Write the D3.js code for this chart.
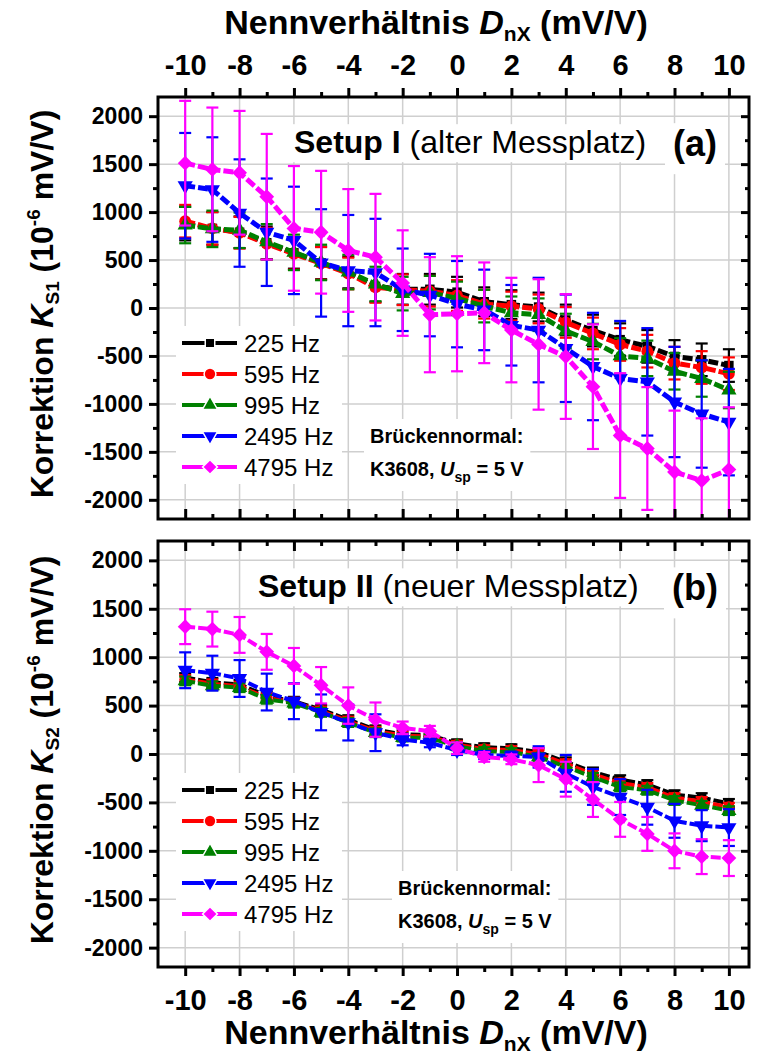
<!DOCTYPE html>
<html>
<head>
<meta charset="utf-8">
<script src="https://cdn.jsdelivr.net/npm/d3@7"></script>
<style>
  body { margin: 0; background: #fff; }
  svg { display: block; font-family: "Liberation Sans", Arial, sans-serif; }
  .grid line { stroke: #cfcfcf; stroke-width: 1.5; }
  .axis path { display: none; }
  .axis line { stroke: #000; stroke-width: 3; }
  .axis text { font-weight: bold; fill: #000; }
</style>
</head>
<body>
<svg id="chart" width="759" height="1060"></svg>
<script>
// nominal ratio D_nX (mV/V)
const dnx = [-10, -9, -8, -7, -6, -5, -4, -3, -2, -1, 0, 1, 2, 3, 4, 5, 6, 7, 8, 9, 10];
const freqLabels = ['225 Hz', '595 Hz', '995 Hz', '2495 Hz', '4795 Hz'];
const xTicks = [-10, -8, -6, -4, -2, 0, 2, 4, 6, 8, 10];
const yTicks = [-2000, -1500, -1000, -500, 0, 500, 1000, 1500, 2000];

// Setup I (a)
const k225a  = [880, 830, 790, 680, 575, 470, 370, 225, 195, 195, 165, 65, 35, 10, -125, -235, -330, -400, -505, -540, -600];
const k595a  = [905, 830, 785, 670, 565, 465, 360, 215, 190, 175, 130, 40, 20, -10, -150, -265, -380, -450, -575, -620, -685];
const k995a  = [865, 825, 810, 690, 580, 475, 375, 250, 150, 160, 100, 20, -50, -70, -240, -350, -500, -525, -660, -735, -855];
const k2495a = [1275, 1235, 990, 790, 705, 470, 390, 370, 190, 135, 40, -20, -180, -230, -420, -610, -735, -770, -980, -1105, -1190];
const k4795a = [1510, 1445, 1410, 1160, 830, 790, 600, 530, 260, -70, -60, -50, -230, -380, -506, -820, -1330, -1465, -1710, -1800, -1685];
const e225a  = [175, 170, 165, 170, 165, 170, 165, 160, 160, 160, 160, 150, 150, 150, 160, 165, 170, 170, 170, 170, 170];
const e595a  = [170, 170, 165, 165, 165, 170, 165, 160, 160, 160, 160, 150, 150, 150, 160, 165, 170, 170, 170, 170, 170];
const e995a  = [190, 190, 185, 185, 185, 185, 180, 180, 175, 175, 175, 170, 170, 170, 180, 185, 185, 185, 190, 190, 190];
const e2495a = [550, 545, 560, 560, 560, 560, 580, 560, 430, 430, 450, 420, 420, 545, 560, 560, 600, 560, 575, 560, 555];
const e4795a = [650, 645, 645, 655, 650, 640, 640, 660, 550, 600, 600, 525, 545, 680, 650, 650, 650, 640, 640, 650, 650];

// Setup II (b)
const k225b  = [790, 740, 720, 600, 545, 460, 355, 250, 205, 195, 110, 70, 60, 20, -80, -185, -265, -315, -420, -450, -510];
const k595b  = [770, 725, 700, 580, 535, 445, 340, 235, 190, 180, 95, 50, 40, 0, -100, -210, -300, -345, -450, -490, -550];
const k995b  = [755, 705, 685, 565, 525, 430, 325, 220, 170, 165, 80, 30, 20, -30, -130, -240, -340, -375, -480, -530, -585];
const k2495b = [865, 835, 780, 640, 545, 430, 325, 220, 150, 115, 40, -10, -20, -30, -200, -340, -445, -550, -690, -740, -760];
const k4795b = [1315, 1290, 1230, 1055, 910, 710, 500, 355, 270, 235, 60, -30, -55, -115, -260, -470, -675, -825, -1000, -1060, -1075];
const e225b  = [45, 45, 45, 45, 45, 45, 45, 45, 40, 40, 40, 40, 40, 40, 45, 45, 45, 45, 45, 45, 45];
const e595b  = [45, 45, 45, 45, 45, 45, 45, 45, 40, 40, 40, 40, 40, 40, 45, 45, 45, 45, 45, 45, 45];
const e995b  = [45, 45, 45, 45, 45, 45, 45, 45, 40, 40, 40, 40, 40, 40, 45, 45, 45, 45, 45, 45, 45];
const e2495b = [185, 180, 190, 190, 185, 185, 185, 190, 60, 45, 50, 40, 45, 110, 190, 185, 185, 180, 175, 160, 190];
const e4795b = [180, 180, 185, 185, 185, 188, 188, 177, 65, 55, 60, 50, 50, 175, 180, 180, 180, 175, 180, 180, 185];

const colors = ['#000000', '#ff0000', '#008000', '#0000ff', '#ff00ff'];

const svg = d3.select('#chart');
const left = 158, right = 749;
const x = d3.scaleLinear().domain([-11, 10.74]).range([left, right]);
const plain = d => String(d);   // hyphen minus like the original

// marker shapes: square, circle, triangle up, triangle down, diamond
const shapes = [
  {type: d3.symbolSquare, size: 90, rot: 0},
  {type: d3.symbolCircle, size: 110, rot: 0},
  {type: d3.symbolTriangle, size: 100, rot: 0},
  {type: d3.symbolTriangle, size: 100, rot: 180},
  {type: d3.symbolSquare, size: 110, rot: 45}
];

const panels = [
  {
    key: 'a', top: 97, bottom: 519,
    series: [k225a, k595a, k995a, k2495a, k4795a],
    errors: [e225a, e595a, e995a, e2495a, e4795a],
    sub: 'S1', setupBold: 'Setup I', setupRest: ' (alter Messplatz)',
    setupX: 294, bruckX: 370, bruckY: 443, legendY: 343, lineW: 5, tag: '(a)'
  },
  {
    key: 'b', top: 541, bottom: 967,
    series: [k225b, k595b, k995b, k2495b, k4795b],
    errors: [e225b, e595b, e995b, e2495b, e4795b],
    sub: 'S2', setupBold: 'Setup II', setupRest: ' (neuer Messplatz)',
    setupX: 258, bruckX: 398, bruckY: 895, legendY: 790, lineW: 4, tag: '(b)'
  }
];

panels.forEach((p, pi) => {
  const y = d3.scaleLinear().domain([-2200, 2200]).range([p.bottom, p.top]);
  const g = svg.append('g');

  // grid
  g.append('g').attr('class', 'grid')
    .selectAll('line').data(xTicks).enter().append('line')
    .attr('x1', d => x(d)).attr('x2', d => x(d))
    .attr('y1', p.top).attr('y2', p.bottom);
  g.append('g').attr('class', 'grid')
    .selectAll('line').data(yTicks).enter().append('line')
    .attr('y1', d => y(d)).attr('y2', d => y(d))
    .attr('x1', left).attr('x2', right);

  // clip for data
  g.append('clipPath').attr('id', 'clip' + p.key)
    .append('rect').attr('x', left).attr('y', p.top)
    .attr('width', right - left).attr('height', p.bottom - p.top);

  // text boxes (white background) behind data
  const boxes = g.append('g');

  const data = g.append('g').attr('clip-path', 'url(#clip' + p.key + ')');
  p.series.forEach((vals, si) => {
    const pts = dnx.map((d, i) => ({x: d, y: vals[i], e: p.errors[si][i]}));
    const sg = data.append('g');
    // error bars
    const eb = sg.selectAll('.eb').data(pts).enter().append('g')
      .attr('stroke', colors[si]).attr('stroke-width', 2.2);
    eb.append('line')
      .attr('x1', d => x(d.x)).attr('x2', d => x(d.x))
      .attr('y1', d => y(d.y + d.e)).attr('y2', d => y(d.y - d.e));
    eb.append('line')
      .attr('x1', d => x(d.x) - 6).attr('x2', d => x(d.x) + 6)
      .attr('y1', d => y(d.y + d.e)).attr('y2', d => y(d.y + d.e));
    eb.append('line')
      .attr('x1', d => x(d.x) - 6).attr('x2', d => x(d.x) + 6)
      .attr('y1', d => y(d.y - d.e)).attr('y2', d => y(d.y - d.e));
    // line
    sg.append('path').datum(pts)
      .attr('fill', 'none').attr('stroke', colors[si])
      .attr('stroke-width', p.lineW).attr('stroke-dasharray', '10,3')
      .attr('d', d3.line().x(d => x(d.x)).y(d => y(d.y)));
    // markers
    const sh = shapes[si];
    sg.selectAll('.m').data(pts).enter().append('path')
      .attr('fill', colors[si])
      .attr('transform', d => 'translate(' + x(d.x) + ',' + y(d.y) + ') rotate(' + sh.rot + ')')
      .attr('d', d3.symbol().type(sh.type).size(sh.size));
  });

  // frame
  g.append('rect').attr('x', left).attr('y', p.top)
    .attr('width', right - left).attr('height', p.bottom - p.top)
    .attr('fill', 'none').attr('stroke', '#000').attr('stroke-width', 3);

  // axes
  const minorX = dnx.filter(d => xTicks.indexOf(d) < 0);
  const minorY = d3.range(-2000, 2001, 250).filter(d => yTicks.indexOf(d) < 0);
  const yLab = g.append('g').attr('class', 'axis').attr('transform', 'translate(' + left + ',0)')
    .call(d3.axisLeft(y).tickValues(yTicks).tickSize(9).tickPadding(6).tickFormat(plain));
  yLab.selectAll('text').style('font-size', '23px');
  g.append('g').attr('class', 'axis').attr('transform', 'translate(' + left + ',0)')
    .call(d3.axisLeft(y).tickValues(minorY).tickSize(5).tickFormat(''));
  g.append('g').attr('class', 'axis').attr('transform', 'translate(' + right + ',0)')
    .call(d3.axisLeft(y).tickValues(yTicks).tickSize(8).tickFormat(''));
  g.append('g').attr('class', 'axis').attr('transform', 'translate(' + right + ',0)')
    .call(d3.axisLeft(y).tickValues(minorY).tickSize(4).tickFormat(''));

  if (pi === 0) {
    const tx = g.append('g').attr('class', 'axis').attr('transform', 'translate(0,' + p.top + ')')
      .call(d3.axisTop(x).tickValues(xTicks).tickSize(9).tickPadding(13).tickFormat(plain));
    tx.selectAll('text').style('font-size', '29px');
    g.append('g').attr('class', 'axis').attr('transform', 'translate(0,' + p.top + ')')
      .call(d3.axisTop(x).tickValues(minorX).tickSize(5).tickFormat(''));
    g.append('g').attr('class', 'axis').attr('transform', 'translate(0,' + p.bottom + ')')
      .call(d3.axisTop(x).tickValues(xTicks).tickSize(10).tickFormat(''));
    g.append('g').attr('class', 'axis').attr('transform', 'translate(0,' + p.bottom + ')')
      .call(d3.axisTop(x).tickValues(minorX).tickSize(5).tickFormat(''));
  } else {
    g.append('g').attr('class', 'axis').attr('transform', 'translate(0,' + p.top + ')')
      .call(d3.axisBottom(x).tickValues(xTicks).tickSize(10).tickFormat(''));
    g.append('g').attr('class', 'axis').attr('transform', 'translate(0,' + p.top + ')')
      .call(d3.axisBottom(x).tickValues(minorX).tickSize(5).tickFormat(''));
    const bx = g.append('g').attr('class', 'axis').attr('transform', 'translate(0,' + p.bottom + ')')
      .call(d3.axisBottom(x).tickValues(xTicks).tickSize(9).tickPadding(13).tickFormat(plain));
    bx.selectAll('text').style('font-size', '29px');
    g.append('g').attr('class', 'axis').attr('transform', 'translate(0,' + p.bottom + ')')
      .call(d3.axisBottom(x).tickValues(minorX).tickSize(5).tickFormat(''));
  }

  // y title
  const yt = g.append('text')
    .attr('transform', 'translate(53,' + ((p.top + p.bottom) / 2 - 4) + ') rotate(-90)')
    .attr('text-anchor', 'middle').style('font-size', '32px').style('font-weight', 'bold');
  yt.append('tspan').text('Korrektion ');
  yt.append('tspan').style('font-style', 'italic').text('K');
  yt.append('tspan').attr('dy', 6).style('font-size', '19px').text(p.sub);
  yt.append('tspan').attr('dy', -6).text(' (10');
  yt.append('tspan').attr('dy', -13).style('font-size', '19px').text('-6');
  yt.append('tspan').attr('dy', 13).text(' mV/V)');

  // setup label
  const st = g.append('text').attr('x', p.setupX).attr('y', y(2000) + 37)
    .style('font-size', '32px');
  st.append('tspan').style('font-weight', 'bold').text(p.setupBold);
  st.append('tspan').text(p.setupRest);
  const sb = st.node().getBBox();
  boxes.append('rect').attr('x', sb.x - 6).attr('y', sb.y).attr('width', sb.width + 10).attr('height', sb.height + 2).attr('fill', '#fff');
  const tg = g.append('text').attr('x', 695).attr('y', y(2000) + 40)
    .attr('text-anchor', 'middle').style('font-size', '36px').style('font-weight', 'bold').text(p.tag);
  const tb = tg.node().getBBox();
  boxes.append('rect').attr('x', tb.x - 8).attr('y', tb.y).attr('width', tb.width + 16).attr('height', tb.height + 10).attr('fill', '#fff');

  // bridge standard note
  const b1 = g.append('text').attr('x', p.bruckX).attr('y', p.bruckY)
    .style('font-size', '20px').style('font-weight', 'bold').text('Brückennormal:');
  const b2 = g.append('text').attr('x', p.bruckX).attr('y', p.bruckY + 33)
    .style('font-size', '20px').style('font-weight', 'bold');
  b2.append('tspan').text('K3608, ');
  b2.append('tspan').style('font-style', 'italic').text('U');
  b2.append('tspan').attr('dy', 6).style('font-size', '14px').text('sp');
  b2.append('tspan').attr('dy', -6).text(' = 5 V');
  const bb1 = b1.node().getBBox(), bb2 = b2.node().getBBox();
  boxes.append('rect').attr('x', bb1.x - 6).attr('y', bb1.y - 6)
    .attr('width', Math.max(bb1.width, bb2.width) + 12).attr('height', bb2.y + bb2.height - bb1.y + 12).attr('fill', '#fff');

  // legend
  const lg = g.append('g');
  boxes.append('rect').attr('x', 176).attr('y', p.legendY - 17)
    .attr('width', 166).attr('height', 4 * 31 + 34).attr('fill', '#fff');
  freqLabels.forEach((lab, si) => {
    const ly = p.legendY + si * 31;
    lg.append('line').attr('x1', 182).attr('x2', 237).attr('y1', ly).attr('y2', ly)
      .attr('stroke', colors[si]).attr('stroke-width', 4);
    const sh = shapes[si];
    lg.append('path').attr('fill', colors[si])
      .attr('transform', 'translate(210,' + ly + ') rotate(' + sh.rot + ')')
      .attr('d', d3.symbol().type(sh.type).size(sh.size))
      .attr('stroke', '#fff').attr('stroke-width', 1.5);
    lg.append('text').attr('x', 244).attr('y', ly + 9)
      .style('font-size', '24px').text(lab);
  });
});

// x titles
function xTitle(yPos) {
  const t = svg.append('text').attr('x', 436).attr('y', yPos)
    .attr('text-anchor', 'middle').style('font-size', '34px').style('font-weight', 'bold');
  t.append('tspan').text('Nennverhältnis ');
  t.append('tspan').style('font-style', 'italic').text('D');
  t.append('tspan').attr('dy', 7).style('font-size', '21px').text('nX');
  t.append('tspan').attr('dy', -7).text(' (mV/V)');
}
xTitle(34);
xTitle(1044);
</script>
</body>
</html>
